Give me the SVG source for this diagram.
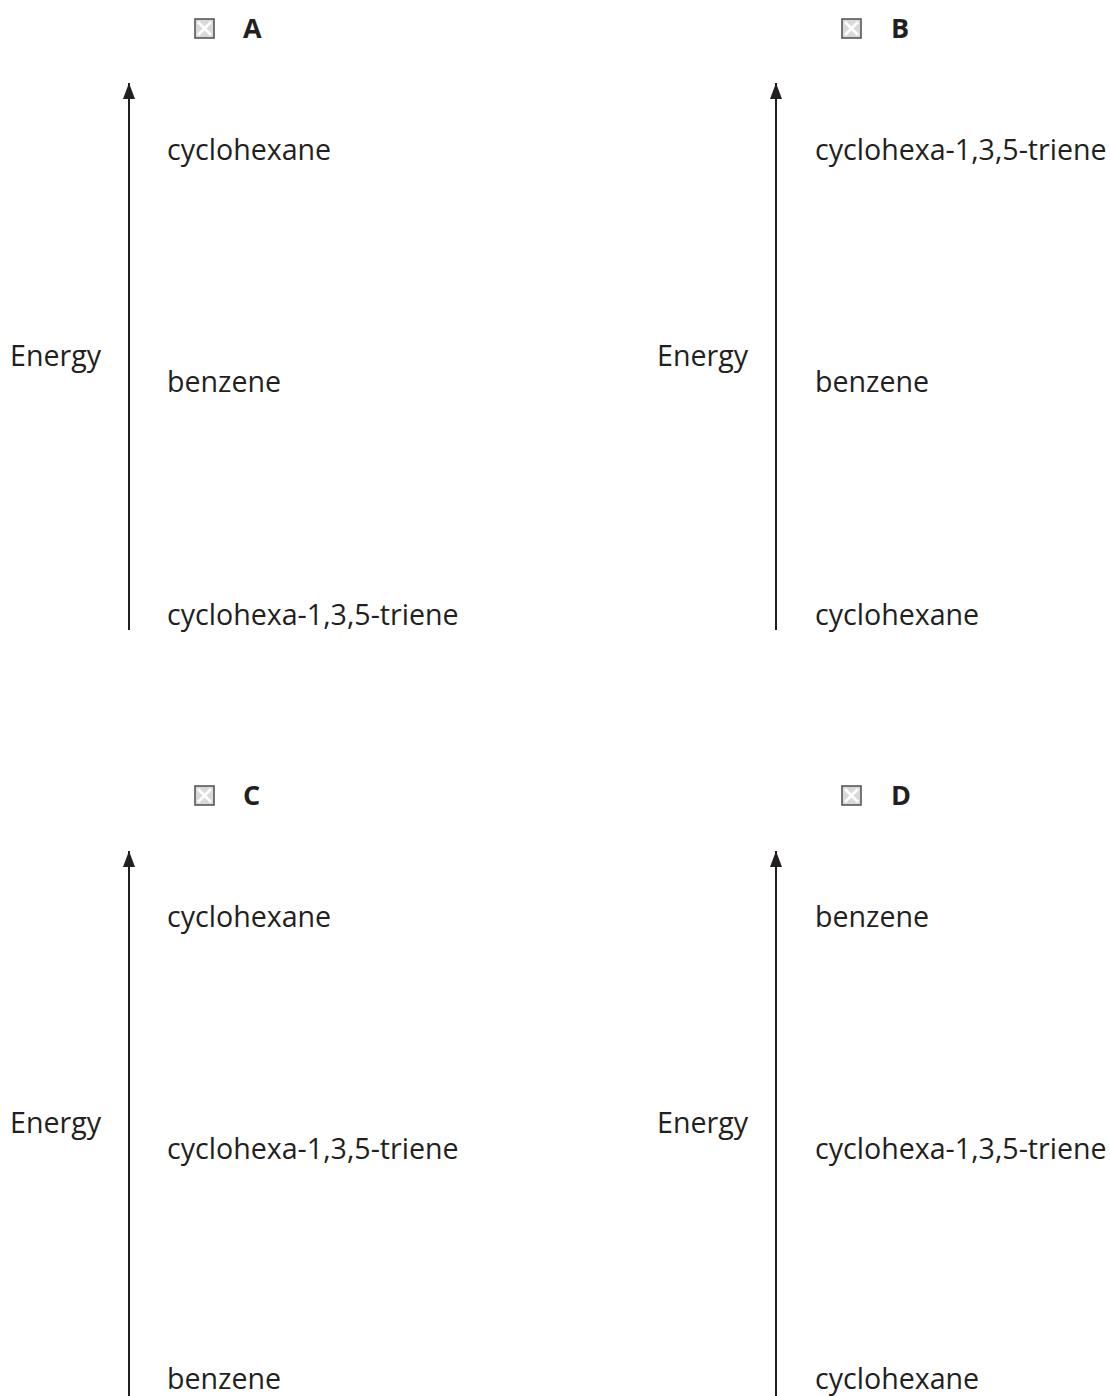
<svg xmlns="http://www.w3.org/2000/svg" width="1110" height="1396" viewBox="0 0 1110 1396">
<defs>
<style>
.t{font-family:"Open Sans","Liberation Sans",sans-serif;font-size:28.6px;fill:#231f20}
.lbl{font-family:"Open Sans","Liberation Sans",sans-serif;font-size:27px;font-weight:bold;fill:#231f20}
.ax{stroke:#231f20;stroke-width:2;fill:none}
.cb{fill:#d9d9d9;stroke:#4d4d4d;stroke-width:1.5}
.cx{stroke:#ffffff;stroke-width:2.5}
</style>
<marker id="ah" markerUnits="userSpaceOnUse" markerWidth="16" markerHeight="12" refX="16" refY="6" orient="auto">
<path d="M0,0 L16,6 L0,12 z" fill="#231f20"/>
</marker>
<g id="box">
<rect class="cb" x="0" y="0" width="19" height="19"/>
<path class="cx" d="M3,3 L16,16 M16,3 L3,16"/>
</g>
</defs>
<rect width="1110" height="1396" fill="#ffffff"/>
<g id="connectors">
<line class="ax" x1="129" y1="630" x2="129" y2="83" marker-end="url(#ah)"/>
<line class="ax" x1="776" y1="630" x2="776" y2="83" marker-end="url(#ah)"/>
<line class="ax" x1="129" y1="1396" x2="129" y2="851" marker-end="url(#ah)"/>
<line class="ax" x1="776" y1="1396" x2="776" y2="851" marker-end="url(#ah)"/>
</g>
<g id="panelA">
<use href="#box" x="195" y="19"/>
<text class="lbl" x="243" y="38">A</text>
<text class="t" x="10" y="366">Energy</text>
<text class="t" x="167" y="160">cyclohexane</text>
<text class="t" x="167" y="392">benzene</text>
<text class="t" x="167" y="625">cyclohexa-1,3,5-triene</text>
</g>
<g id="panelB">
<use href="#box" x="842" y="19"/>
<text class="lbl" x="891" y="38">B</text>
<text class="t" x="657" y="366">Energy</text>
<text class="t" x="815" y="160">cyclohexa-1,3,5-triene</text>
<text class="t" x="815" y="392">benzene</text>
<text class="t" x="815" y="625">cyclohexane</text>
</g>
<g id="panelC">
<use href="#box" x="195" y="786"/>
<text class="lbl" x="243" y="805">C</text>
<text class="t" x="10" y="1133">Energy</text>
<text class="t" x="167" y="927">cyclohexane</text>
<text class="t" x="167" y="1159">cyclohexa-1,3,5-triene</text>
<text class="t" x="167" y="1389">benzene</text>
</g>
<g id="panelD">
<use href="#box" x="842" y="786"/>
<text class="lbl" x="891" y="805">D</text>
<text class="t" x="657" y="1133">Energy</text>
<text class="t" x="815" y="927">benzene</text>
<text class="t" x="815" y="1159">cyclohexa-1,3,5-triene</text>
<text class="t" x="815" y="1389">cyclohexane</text>
</g>
</svg>
